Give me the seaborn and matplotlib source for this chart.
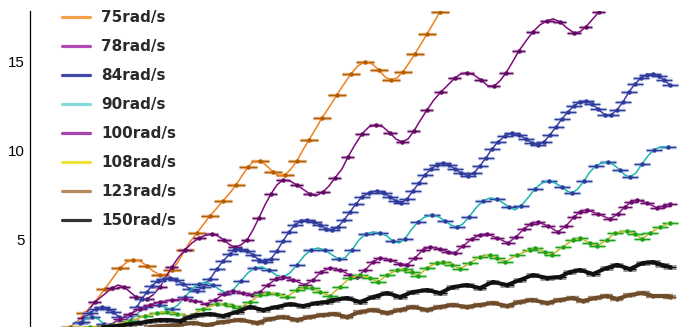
import matplotlib
matplotlib.use("Agg")
import matplotlib.pyplot as plt
from matplotlib.lines import Line2D
import seaborn as sns
import pandas as pd
import numpy as np

# ---------------- data ----------------
LABELS = ["75rad/s", "78rad/s", "84rad/s", "90rad/s", "100rad/s", "108rad/s", "123rad/s", "150rad/s"]

X75 = [2.76,3.31,3.79,4.48,5.17,5.72,6.21,6.69,7.10,7.59,8.07,8.48,8.97,9.45,9.79,10.21,10.69,11.03,11.52,11.93,
       12.41,12.90,13.31,13.79,14.21,14.62,15.03,15.38,15.86,16.34,16.76,17.17,17.59,18.0,18.41,18.83,19.24,19.66,
       20.14,20.69,21.17,21.66,22.14,22.62,23.10,23.59,24.07,24.48,24.90,25.31,25.72,26.14,26.55,26.97,27.38,27.79,28.28]
Y75 = [0.11,0.45,0.90,1.52,2.25,2.87,3.43,3.76,3.88,3.82,3.54,3.26,3.03,3.09,3.31,3.76,4.44,4.89,5.39,5.84,
       6.35,6.80,7.19,7.64,8.09,8.60,9.10,9.38,9.44,9.16,8.82,8.60,8.65,8.99,9.44,10.06,10.62,11.18,
       11.85,12.53,13.15,13.76,14.33,14.78,15.0,14.89,14.55,14.16,13.99,14.10,14.44,14.94,15.45,16.01,16.57,17.13,17.81]

X78 = [3.66,4.0,4.48,5.17,5.66,6.07,6.48,6.90,7.31,7.66, 8.07,8.48,8.97,9.38,9.79,10.21,10.69,11.17,11.66,12.14,
       12.55,12.97,13.38,13.79,14.14,14.55,14.97,15.38,15.79,16.21, 16.62,17.03,17.45,17.93,18.41,18.90,19.31,19.72,20.21,20.62,
       21.03,21.52,21.93,22.41,22.90,23.38,23.86,24.34,24.83,25.24, 25.66,26.07,26.48,26.90,27.38,27.86,28.34,28.83,29.31,29.72,
       30.14,30.62,31.10,31.59,32.0,32.41,32.83,33.24,33.72,34.21, 34.69,35.17,35.66,36.07,36.55,37.03,37.52,37.93,38.34,38.76,
       39.24]
Y78 = [0.62,1.01,1.52,1.97,2.30,2.47,2.36,2.08,1.80,1.63, 1.69,1.91,2.36,2.92,3.48,3.99,4.44,4.83,5.11,5.28,
       5.34,5.22,5.0,4.72,4.61,4.72,5.0,5.56,6.24,6.97, 7.58,8.09,8.37,8.31,8.09,7.81,7.58,7.47,7.70,8.03,
       8.48,8.99,9.66,10.34,10.96,11.35,11.46,11.35,11.01,10.67, 10.51,10.67,11.12,11.69,12.30,12.87,13.31,13.71,14.10,14.33,
       14.38,14.27,13.99,13.65,13.65,13.93,14.38,14.94,15.62,16.18, 16.69,17.08,17.30,17.42,17.25,16.91,16.63,16.69,16.97,17.36,
       17.81]

X84 = [3.45,4.14,4.55,4.97,5.38,5.72,6.14,6.55,6.97,7.38, 7.72,8.07,8.41,8.83,9.24,9.66,10.07,10.55,11.03,11.52,
       11.93,12.41,12.90,13.31,13.79,14.14,14.48,14.97,15.38,15.79, 16.21,16.62,17.03,17.45,17.86,18.28,18.69,19.10,19.59,20.0,
       20.41,20.83,21.24,21.66,22.07,22.48,22.90,23.38,23.93,24.41, 24.83,25.24,25.59,26.0,26.41,26.83,27.24,27.66,28.07,28.48,
       28.90,29.31,29.72,30.21,30.62,31.03,31.45,31.86,32.28,32.76, 33.24,33.72,34.21,34.62,35.03,35.45,35.86,36.28,36.69,37.10,
       37.52,37.93,38.34,38.76,39.17,39.66,40.07,40.48,40.90,41.31, 41.72,42.14,42.55,42.97,43.38,43.72,44.14]
Y84 = [0.34,0.90,1.12,1.24,1.12,0.96,0.67,0.45,0.79,1.24, 1.69,2.08,2.42,2.70,2.81,2.87,2.75,2.53,2.25,2.13,
       2.36,2.81,3.37,3.82,4.21,4.44,4.49,4.38,4.16,3.88, 3.76,3.93,4.38,4.94,5.45,5.84,6.07,6.12,6.01,5.84,
       5.62,5.56,5.73,6.12,6.57,7.02,7.42,7.64,7.75,7.64, 7.42,7.19,7.08,7.30,7.75,8.20,8.65,8.99,9.21,9.33,
       9.21,8.99,8.76,8.60,8.76,9.16,9.61,10.11,10.51,10.84, 11.01,10.90,10.67,10.45,10.34,10.51,10.90,11.35,11.80,12.19,
       12.53,12.75,12.81,12.64,12.36,12.02,12.02,12.30,12.75,13.31, 13.76,14.10,14.27,14.33,14.21,13.99,13.71]

X90 = [3.59,3.93,4.28,4.69,5.10,5.52,6.0,6.48,6.97,7.45, 7.93,8.41,8.90,9.38,9.79,10.21,10.69,11.17,11.66,12.14,
       12.62,13.10,13.59,14.07,14.55,15.03,15.52,16.0,16.48,16.97, 17.45,17.93,18.41,18.90,19.38,19.86,20.34,20.83,21.31,21.72,
       22.21,22.69,23.17,23.66,24.14,24.62,25.03,25.45,25.86,26.28, 26.76,27.24,27.72,28.21,28.62,29.03,29.45,29.86,30.28,30.76,
       31.24,31.72,32.21,32.62,33.03,33.45,33.86,34.34,34.83,35.31, 35.79,36.21,36.69,37.03,37.38,37.79,38.21,38.62,39.03,39.45,
       39.86,40.28,40.69,41.03,41.38,41.79,42.21,42.62,43.03,43.45, 44.0]
Y90 = [0.39,0.62,0.67,0.56,0.28,0.06,-0.06,0.11,0.51,0.90, 1.24,1.40,1.35,1.18,1.12,1.35,1.80,2.25,2.53,2.64,
       2.47,2.19,2.02,2.25,2.70,3.15,3.43,3.48,3.31,3.03, 2.92,3.15,3.60,4.10,4.44,4.55,4.44,4.16,3.93,3.99,
       4.44,5.0,5.34,5.45,5.39,5.22,4.94,4.83,5.06,5.56, 6.01,6.29,6.40,6.29,6.07,5.84,5.73,5.90,6.29,6.80,
       7.19,7.36,7.30,7.08,6.85,6.69,6.91,7.36,7.87,8.20, 8.31,8.20,7.98,7.75,7.64,7.87,8.31,8.82,9.16,9.33,
       9.38,9.21,8.93,8.65,8.54,8.76,9.27,9.72,10.06,10.22, 10.22]

X100 = [4.83,5.52,6.21,6.90,7.59,8.28,8.97,9.79,10.69,11.38, 12.21,12.76,13.38,14.0,14.69,15.31,15.86,16.41,16.97,17.45,
        18.14,18.97,19.52,20.07,20.69,21.38,22.07,22.55,23.10,23.66, 24.14,24.83,25.52,26.0,26.55,27.10,27.59,28.28,28.83,29.31,
        29.86,30.48,31.03,31.52,32.21,32.97,33.52,34.07,34.55,35.03, 35.72,36.41,36.97,37.52,37.93,38.41,39.17,40.0,40.55,41.03,
        41.45,41.86,42.55,43.24,43.72,44.14]
Y100 = [-0.06,0.22,0.56,0.84,1.12,1.35,1.52,1.63,1.69,1.57, 1.40,1.63,1.97,2.13,2.02,1.91,2.08,2.47,2.81,2.92,
        2.75,2.47,2.75,3.20,3.43,3.31,3.03,2.92,3.31,3.76, 3.99,3.88,3.65,3.60,3.99,4.44,4.61,4.49,4.33,4.27,
        4.66,5.06,5.28,5.34,5.11,4.83,5.17,5.62,5.90,6.01, 5.79,5.45,5.79,6.29,6.57,6.69,6.46,6.18,6.46,6.85,
        7.13,7.25,7.08,6.80,6.91,7.02]

X108 = [2.76,4.14,5.72,6.90,7.93,8.76,9.45,10.14,11.03,11.93, 12.90,13.45,14.0,14.48,15.17,15.86,16.41,17.03,17.72,18.41,
        18.97,19.45,20.0,20.69,21.38,22.07,22.76,23.45,24.0,24.62, 25.31,25.86,26.34,26.76,27.38,28.07,28.48,29.10,29.66,30.34,
        31.03,31.72,32.21,32.76,33.59,34.48,34.83,35.52,36.0,36.76, 37.45,37.93,38.62,39.10,39.79,40.34,41.17,41.72,42.21,42.76,
        43.45,44.14]
Y108 = [0.06,0.11,0.22,0.45,0.73,0.90,0.96,0.84,0.73,1.12, 1.40,1.40,1.29,1.18,1.52,1.91,2.02,1.97,1.80,2.19,
        2.36,2.30,2.08,1.85,2.36,2.87,3.03,2.87,2.64,3.03, 3.31,3.37,3.20,2.98,3.43,3.71,3.76,3.60,3.37,3.71,
        4.04,4.16,3.99,3.76,4.16,4.44,4.55,4.33,4.16,4.61, 5.0,5.11,4.83,4.66,5.0,5.39,5.51,5.34,5.06,5.39,
        5.73,5.96]

X123 = [8.28,9.17,10.14,11.24,12.21,13.31,14.48,15.66,16.55,17.45, 18.41,19.31,20.21,21.03,21.86,22.76,23.66,24.62,25.52,26.41,
        27.38,28.28,29.17,30.14,31.03,31.93,32.90,33.79,34.62,35.66, 36.55,37.45,38.14,38.97,39.79,40.48,41.38,42.28,42.97,43.93,
        44.14]
Y123 = [0.11,0.17,0.22,0.34,0.22,0.39,0.51,0.34,0.56,0.67, 0.51,0.67,0.79,0.84,0.67,0.96,1.07,0.90,1.07,1.24,
        1.07,1.24,1.35,1.24,1.35,1.46,1.29,1.52,1.63,1.46, 1.63,1.74,1.57,1.74,1.85,1.69,1.91,2.02,1.85,1.85,
        1.80]

X150 = [5.03,6.0,6.90,7.59,8.28,8.97,9.45,10.34,11.03,11.52, 12.41,13.31,14.28,15.17,16.07,17.03,17.93,18.83,19.79,20.48,
        20.90,21.86,22.76,23.66,24.62,25.52,26.41,27.38,28.28,29.17, 30.14,31.03,31.93,32.90,33.79,34.69,35.66,36.55,37.24,37.93,
        38.83,39.79,40.48,41.38,42.28,42.97,43.59,44.14]
Y150 = [0.11,0.17,0.28,0.34,0.45,0.51,0.51,0.45,0.67,0.79, 0.84,0.73,0.96,1.24,1.07,1.24,1.40,1.29,1.46,1.52,
        1.63,1.74,1.52,1.80,2.02,1.80,2.08,2.19,2.02,2.36, 2.47,2.30,2.64,2.47,2.75,3.03,2.87,2.92,3.20,3.31,
        3.09,3.43,3.60,3.37,3.71,3.76,3.60,3.48]

# horizontal uncertainty of each measured point (x units)
XERR = [0.6, 0.45, 0.55, 0.55, 0.5, 0.55, 0.45, 0.45]

Y_TICKS = [5, 10, 15]

# ---------------- styles ----------------
SERIES = [(X75, Y75), (X78, Y78), (X84, Y84), (X90, Y90), (X100, Y100), (X108, Y108), (X123, Y123), (X150, Y150)]
LINE_COL = ["#f0801e", "#7d0a7d", "#3b3ba8", "#1fb3b3", "#8b1a8b", "#c8b828", "#6e4b2a", "#111111"]
PT_COL = ["#b35c00", "#5e0a5e", "#2e3a9a", "#2e3a9a", "#6a0a6a", "#1aa01a", "#6e4b2a", "#111111"]
BAR_COL = ["#d08a40", "#a060a0", "#8090cc", "#8090cc", "#b080b0", "#80d080", "#8a6a48", "#666666"]
LINE_W = [1.1, 1.1, 1.1, 1.1, 1.1, 1.1, 2.8, 2.8]
BAR_W = [2.4, 2.4, 2.4, 2.4, 2.4, 2.4, 3.2, 3.4]
STEP = [2, 2, 1, 2, 1, 1, 1, 1]
LEG_COL = ["#f5a04a", "#b54ab5", "#4048a8", "#86dada", "#a844b0", "#ece43c", "#b88a60", "#333333"]

sns.set_style("white")
plt.rcParams["font.family"] = ["Liberation Sans", "DejaVu Sans"]

fig = plt.figure(figsize=(6.82, 3.27), dpi=100)
ax = fig.add_axes([30 / 682, 0, 652 / 682, 316 / 327])

for i, (xs, ys) in enumerate(SERIES):
    df = pd.DataFrame({"x": xs, "y": ys})
    pts = df.iloc[::STEP[i]]
    ax.errorbar(pts["x"], pts["y"], xerr=XERR[i], fmt="none", ecolor=BAR_COL[i],
                elinewidth=BAR_W[i], alpha=0.75, capsize=0, zorder=2 + i * 0.1)
    ax.errorbar(pts["x"], pts["y"], xerr=XERR[i], fmt="o", color=PT_COL[i], ms=2.2,
                ecolor=PT_COL[i], elinewidth=0.7, capsize=0, zorder=2.05 + i * 0.1)
    sns.lineplot(data=df, x="x", y="y", sort=False, estimator=None, color=LINE_COL[i],
                 linewidth=LINE_W[i], ax=ax, zorder=2.08 + i * 0.1)

ax.set_xlim(0, 44.97)
ax.set_ylim(0.11, 17.86)
ax.set_xlabel("")
ax.set_ylabel("")

for s in ["top", "right", "bottom"]:
    ax.spines[s].set_visible(False)
ax.spines["left"].set_color("#000000")
ax.spines["left"].set_linewidth(0.9)

ax.set_yticks(Y_TICKS)
ax.set_yticks(np.arange(1, 18), minor=True)
ax.tick_params(axis="y", which="major", direction="in", length=3.2, width=0.8, color="#000000",
               labelsize=10.8, pad=4, labelcolor="#000000")
ax.tick_params(axis="y", which="minor", direction="in", length=1.8, width=0.6, color="#555555")
ax.set_xticks([10, 20, 30, 40])
ax.tick_params(axis="x", which="major", direction="in", length=2, width=0.8, color="#cccccc",
               labelbottom=False)

handles = [Line2D([0], [0], color=c, lw=2.3) for c in LEG_COL]
leg = ax.legend(handles, LABELS, loc="upper left", bbox_to_anchor=(62 / 682, 1 - 10 / 327),
                bbox_transform=fig.transFigure, frameon=False, borderpad=0, borderaxespad=0,
                handlelength=1.85, handletextpad=0.72, labelspacing=0.92,
                prop={"family": "DejaVu Sans", "weight": "bold", "size": 11})
for t in leg.get_texts():
    t.set_color("#2a2a2a")

fig.savefig("out.png", dpi=100)
